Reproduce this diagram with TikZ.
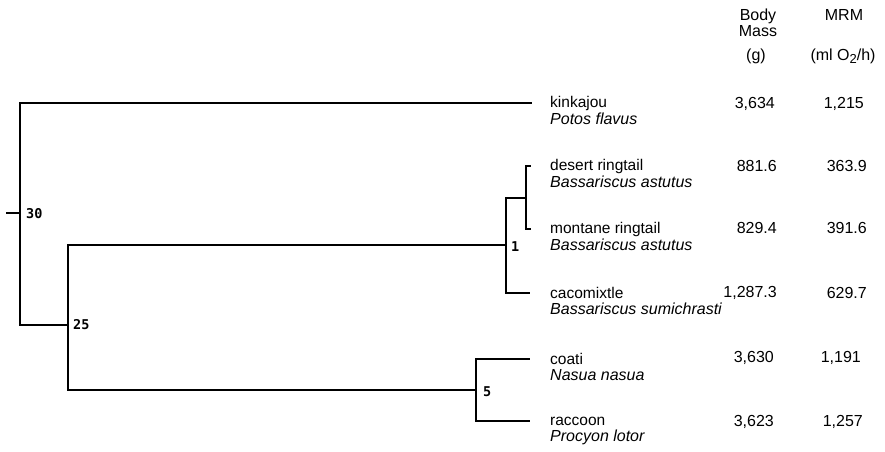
\documentclass[tikz,border=0pt]{standalone}
\usepackage{fontspec}
\setmainfont{Liberation Sans}
\newfontfamily\labfont{DejaVu Sans Mono}
\begin{document}
\begin{tikzpicture}[x=1pt,y=-1pt,
  branch/.style={line width=1.8pt, line join=miter},
  common/.style={anchor=west, inner sep=0pt, font=\fontsize{15.5}{16}\selectfont},
  latin/.style={anchor=west, inner sep=0pt, font=\fontsize{16}{16}\selectfont\itshape},
  val/.style={anchor=east, inner sep=0pt, font=\fontsize{16}{16}\selectfont},
  head/.style={anchor=center, inner sep=0pt, font=\fontsize{16}{16}\selectfont, align=center},
  nlab/.style={anchor=west, inner sep=0pt, font=\fontsize{13.5}{13.5}\selectfont\labfont\bfseries}]
\useasboundingbox (0,0) rectangle (885,451);
% junctions
\coordinate (n30) at (20,213);
\coordinate (rootend) at (6,213);
\coordinate (n25) at (68,325);
\coordinate (n1) at (506,245);
\coordinate (nring) at (526,198);
\coordinate (n5) at (476,390);
% tips
\coordinate (tkin) at (532,103);
\coordinate (tdes) at (531,166);
\coordinate (tmon) at (531,229);
\coordinate (tcac) at (530,293);
\coordinate (tcoa) at (530,359);
\coordinate (trac) at (530,421);
% tree
\draw[branch] (rootend) -- (n30);
\draw[branch] (n30) |- (tkin);
\draw[branch] (n30) |- (n25);
\draw[branch] (n25) |- (n1);
\draw[branch] (n25) |- (n5);
\draw[branch] (n1) |- (nring);
\draw[branch] (n1) |- (tcac);
\draw[branch] (nring) |- (tdes);
\draw[branch] (nring) |- (tmon);
\draw[branch] (n5) |- (tcoa);
\draw[branch] (n5) |- (trac);
% node labels
\node[nlab] (l30) at (26,214) {30};
\node[nlab] (l25) at (73,325) {25};
\node[nlab] (l1) at (511,247) {1};
\node[nlab] (l5) at (483,392) {5};
% headers
\node[head] (hbody) at (758,23) {Body\\Mass};
\node[head] (hg) at (756,56) {(g)};
\node[head] (hmrm) at (844,15) {MRM};
\node[head] (hunit) at (843,56) {(ml O\raisebox{-3pt}{\fontsize{13}{13}\selectfont 2}/h)};
% species
\node[common] (ckin) at (550,103) {kinkajou};
\node[latin] (lkin) at (550,119) {Potos flavus};
\node[common] (cdes) at (550,166) {desert ringtail};
\node[latin] (ldes) at (550,182) {Bassariscus astutus};
\node[common] (cmon) at (550,229) {montane ringtail};
\node[latin] (lmon) at (550,245) {Bassariscus astutus};
\node[common] (ccac) at (550,293) {cacomixtle};
\node[latin] (lcac) at (550,309) {Bassariscus sumichrasti};
\node[common] (ccoa) at (550,359) {coati};
\node[latin] (lcoa) at (550,375) {Nasua nasua};
\node[common] (crac) at (550,421) {raccoon};
\node[latin] (lrac) at (550,437) {Procyon lotor};
% values
\node[val] (bkin) at (775,104) {3,634};
\node[val] (mkin) at (864,104) {1,215};
\node[val] (bdes) at (777,166) {881.6};
\node[val] (mdes) at (867,166) {363.9};
\node[val] (bmon) at (777,228) {829.4};
\node[val] (mmon) at (867,228) {391.6};
\node[val] (bcac) at (777,293) {1,287.3};
\node[val] (mcac) at (867,293) {629.7};
\node[val] (bcoa) at (774,358) {3,630};
\node[val] (mcoa) at (861,358) {1,191};
\node[val] (brac) at (774,422) {3,623};
\node[val] (mrac) at (863,422) {1,257};
\end{tikzpicture}
\end{document}
